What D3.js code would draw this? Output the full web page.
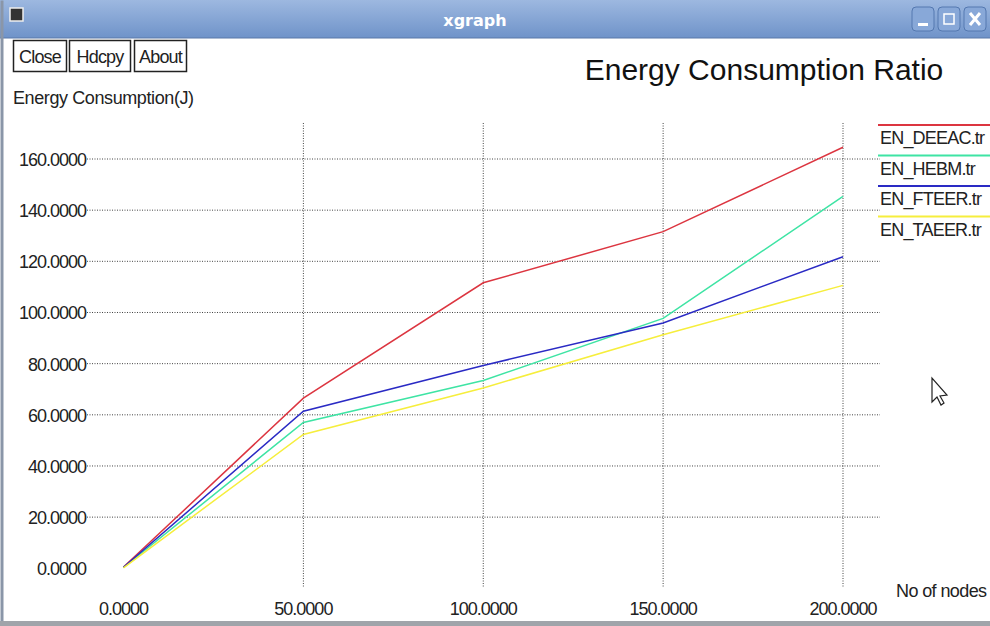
<!DOCTYPE html>
<meta charset="utf-8">
<script src="https://d3js.org/d3.v7.min.js"></script>
<style>
  body { margin: 0; background: #fff; }
  text { font-family: "Liberation Sans", Arial, sans-serif; }
</style>
<body>
<svg id="vis" width="990" height="626"></svg>
<script>
// data
var nodes = [0, 50, 100, 150, 200];
var deeac = [0.5, 66.5, 111.6, 131.6, 164.6];
var hebm  = [0.3, 57.0, 73.4, 97.7, 145.4];
var fteer = [0.4, 61.4, 79.3, 95.9, 121.8];
var taeer = [0.2, 52.3, 70.5, 91.3, 110.6];
var seriesNames = ["EN_DEEAC.tr", "EN_HEBM.tr", "EN_FTEER.tr", "EN_TAEER.tr"];
var seriesColors = ["#dc3540", "#3ee4a4", "#2a2ac4", "#f6ee3c"];
var xTicks = [0, 50, 100, 150, 200];
var yTicks = [0, 20, 40, 60, 80, 100, 120, 140, 160];

var allSeries = [deeac, hebm, fteer, taeer];

var svg = d3.select("#vis");

// window frame
var grad = svg.append("defs").append("linearGradient")
    .attr("id", "bar").attr("x1", 0).attr("y1", 0).attr("x2", 0).attr("y2", 1);
grad.append("stop").attr("offset", "0%").attr("stop-color", "#9db8e0");
grad.append("stop").attr("offset", "100%").attr("stop-color", "#6f93c9");

svg.append("rect").attr("x", 0).attr("y", 0).attr("width", 990).attr("height", 626).attr("fill", "#fff");
svg.append("rect").attr("x", 0).attr("y", 0).attr("width", 990).attr("height", 38).attr("fill", "url(#bar)");
svg.append("line").attr("x1", 0).attr("x2", 990).attr("y1", 38).attr("y2", 38).attr("stroke", "#5a78a8");
svg.append("rect").attr("x", 0.5).attr("y", 0.5).attr("width", 3).attr("height", 621).attr("fill", "#8a96a8");
svg.append("rect").attr("x", 0).attr("y", 621).attr("width", 990).attr("height", 5).attr("fill", "#a0a4aa");

// window icon
svg.append("rect").attr("x", 10).attr("y", 8).attr("width", 13).attr("height", 13)
  .attr("fill", "#333").attr("stroke", "#eee").attr("stroke-width", 1.5);

svg.append("text").attr("x", 475).attr("y", 26).attr("text-anchor", "middle")
  .style("font-family", "'DejaVu Sans', sans-serif").style("font-weight", "bold")
  .attr("font-size", 16).attr("fill", "#fff").text("xgraph");

// window buttons
[912, 938, 964].forEach(function(bx) {
  svg.append("rect").attr("x", bx).attr("y", 7).attr("width", 22).attr("height", 24).attr("rx", 4)
    .attr("fill", "#88a8d8").attr("stroke", "#5478b0");
});
svg.append("rect").attr("x", 918).attr("y", 23).attr("width", 10).attr("height", 3).attr("fill", "#fff");
svg.append("rect").attr("x", 944).attr("y", 14).attr("width", 10).attr("height", 10).attr("fill", "none").attr("stroke", "#fff").attr("stroke-width", 1.5);
svg.append("path").attr("d", "M970,13 L980,25 M980,13 L970,25").attr("stroke", "#fff").attr("stroke-width", 3);

// xgraph buttons
var buttons = [["Close", 13, 53], ["Hdcpy", 69, 61], ["About", 134, 52]];
buttons.forEach(function(b) {
  svg.append("rect").attr("x", b[1] + 0.5).attr("y", 40.5).attr("width", b[2]).attr("height", 31)
    .attr("fill", "#fff").attr("stroke", "#222").attr("stroke-width", 1.5);
  svg.append("text").attr("x", b[1] + b[2] / 2 + 0.5).attr("y", 63).attr("text-anchor", "middle")
    .attr("font-size", 18).attr("letter-spacing", -0.8).attr("fill", "#222").text(b[0]);
});

svg.append("text").attr("x", 764).attr("y", 80).attr("text-anchor", "middle")
  .attr("font-size", 30).attr("fill", "#111").text("Energy Consumption Ratio");

svg.append("text").attr("x", 13).attr("y", 104)
  .attr("font-size", 18).attr("letter-spacing", -0.4).attr("fill", "#222").text("Energy Consumption(J)");

// scales
var x = d3.scaleLinear().domain([0, 200]).range([123.5, 843]);
var y = d3.scaleLinear().domain([0, 160]).range([568.3, 159]);

// grid
svg.append("g").selectAll("line").data(yTicks.slice(1)).enter().append("line")
  .attr("x1", 87).attr("x2", 880)
  .attr("y1", function(d) { return y(d); }).attr("y2", function(d) { return y(d); })
  .attr("stroke", "#444").attr("stroke-width", 1).attr("stroke-dasharray", "1,1.5");
svg.append("g").selectAll("line").data(xTicks.slice(1)).enter().append("line")
  .attr("x1", function(d) { return x(d); }).attr("x2", function(d) { return x(d); })
  .attr("y1", 123).attr("y2", 588)
  .attr("stroke", "#444").attr("stroke-width", 1).attr("stroke-dasharray", "1,1.5");

// tick labels
svg.append("g").selectAll("text").data(yTicks).enter().append("text")
  .attr("x", 86).attr("y", function(d) { return y(d) + 7; })
  .attr("text-anchor", "end").attr("font-size", 18).attr("letter-spacing", -1).attr("fill", "#222")
  .text(function(d) { return d3.format(".4f")(d); });
svg.append("g").selectAll("text").data(xTicks).enter().append("text")
  .attr("x", function(d) { return x(d); }).attr("y", 615)
  .attr("text-anchor", "middle").attr("font-size", 18).attr("letter-spacing", -1).attr("fill", "#222")
  .text(function(d) { return d3.format(".4f")(d); });

svg.append("text").attr("x", 896).attr("y", 597)
  .attr("font-size", 18).attr("letter-spacing", -0.6).attr("fill", "#222").text("No of nodes");

// lines
var line = d3.line()
  .x(function(d, i) { return x(nodes[i]); })
  .y(function(d) { return y(d); });
svg.append("g").selectAll("path").data(allSeries).enter().append("path")
  .attr("d", line)
  .attr("fill", "none")
  .attr("stroke", function(d, i) { return seriesColors[i]; })
  .attr("stroke-width", 1.5);

// legend
var leg = svg.append("g").selectAll("g").data(seriesNames).enter().append("g")
  .attr("transform", function(d, i) { return "translate(0," + (125 + i * 30.5) + ")"; });
leg.append("line").attr("x1", 878).attr("x2", 990).attr("y1", 0).attr("y2", 0)
  .attr("stroke", function(d, i) { return seriesColors[i]; }).attr("stroke-width", 2);
leg.append("text").attr("x", 880).attr("y", 19).attr("font-size", 18).attr("letter-spacing", -0.8).attr("fill", "#222")
  .text(function(d) { return d; });

// mouse pointer
svg.append("path")
  .attr("d", "M932,378 L932,402 L937,397 L941,405 L944,403 L940,396 L947,395 Z")
  .attr("fill", "#fff").attr("stroke", "#222").attr("stroke-width", 1.2);
</script>
</body>
